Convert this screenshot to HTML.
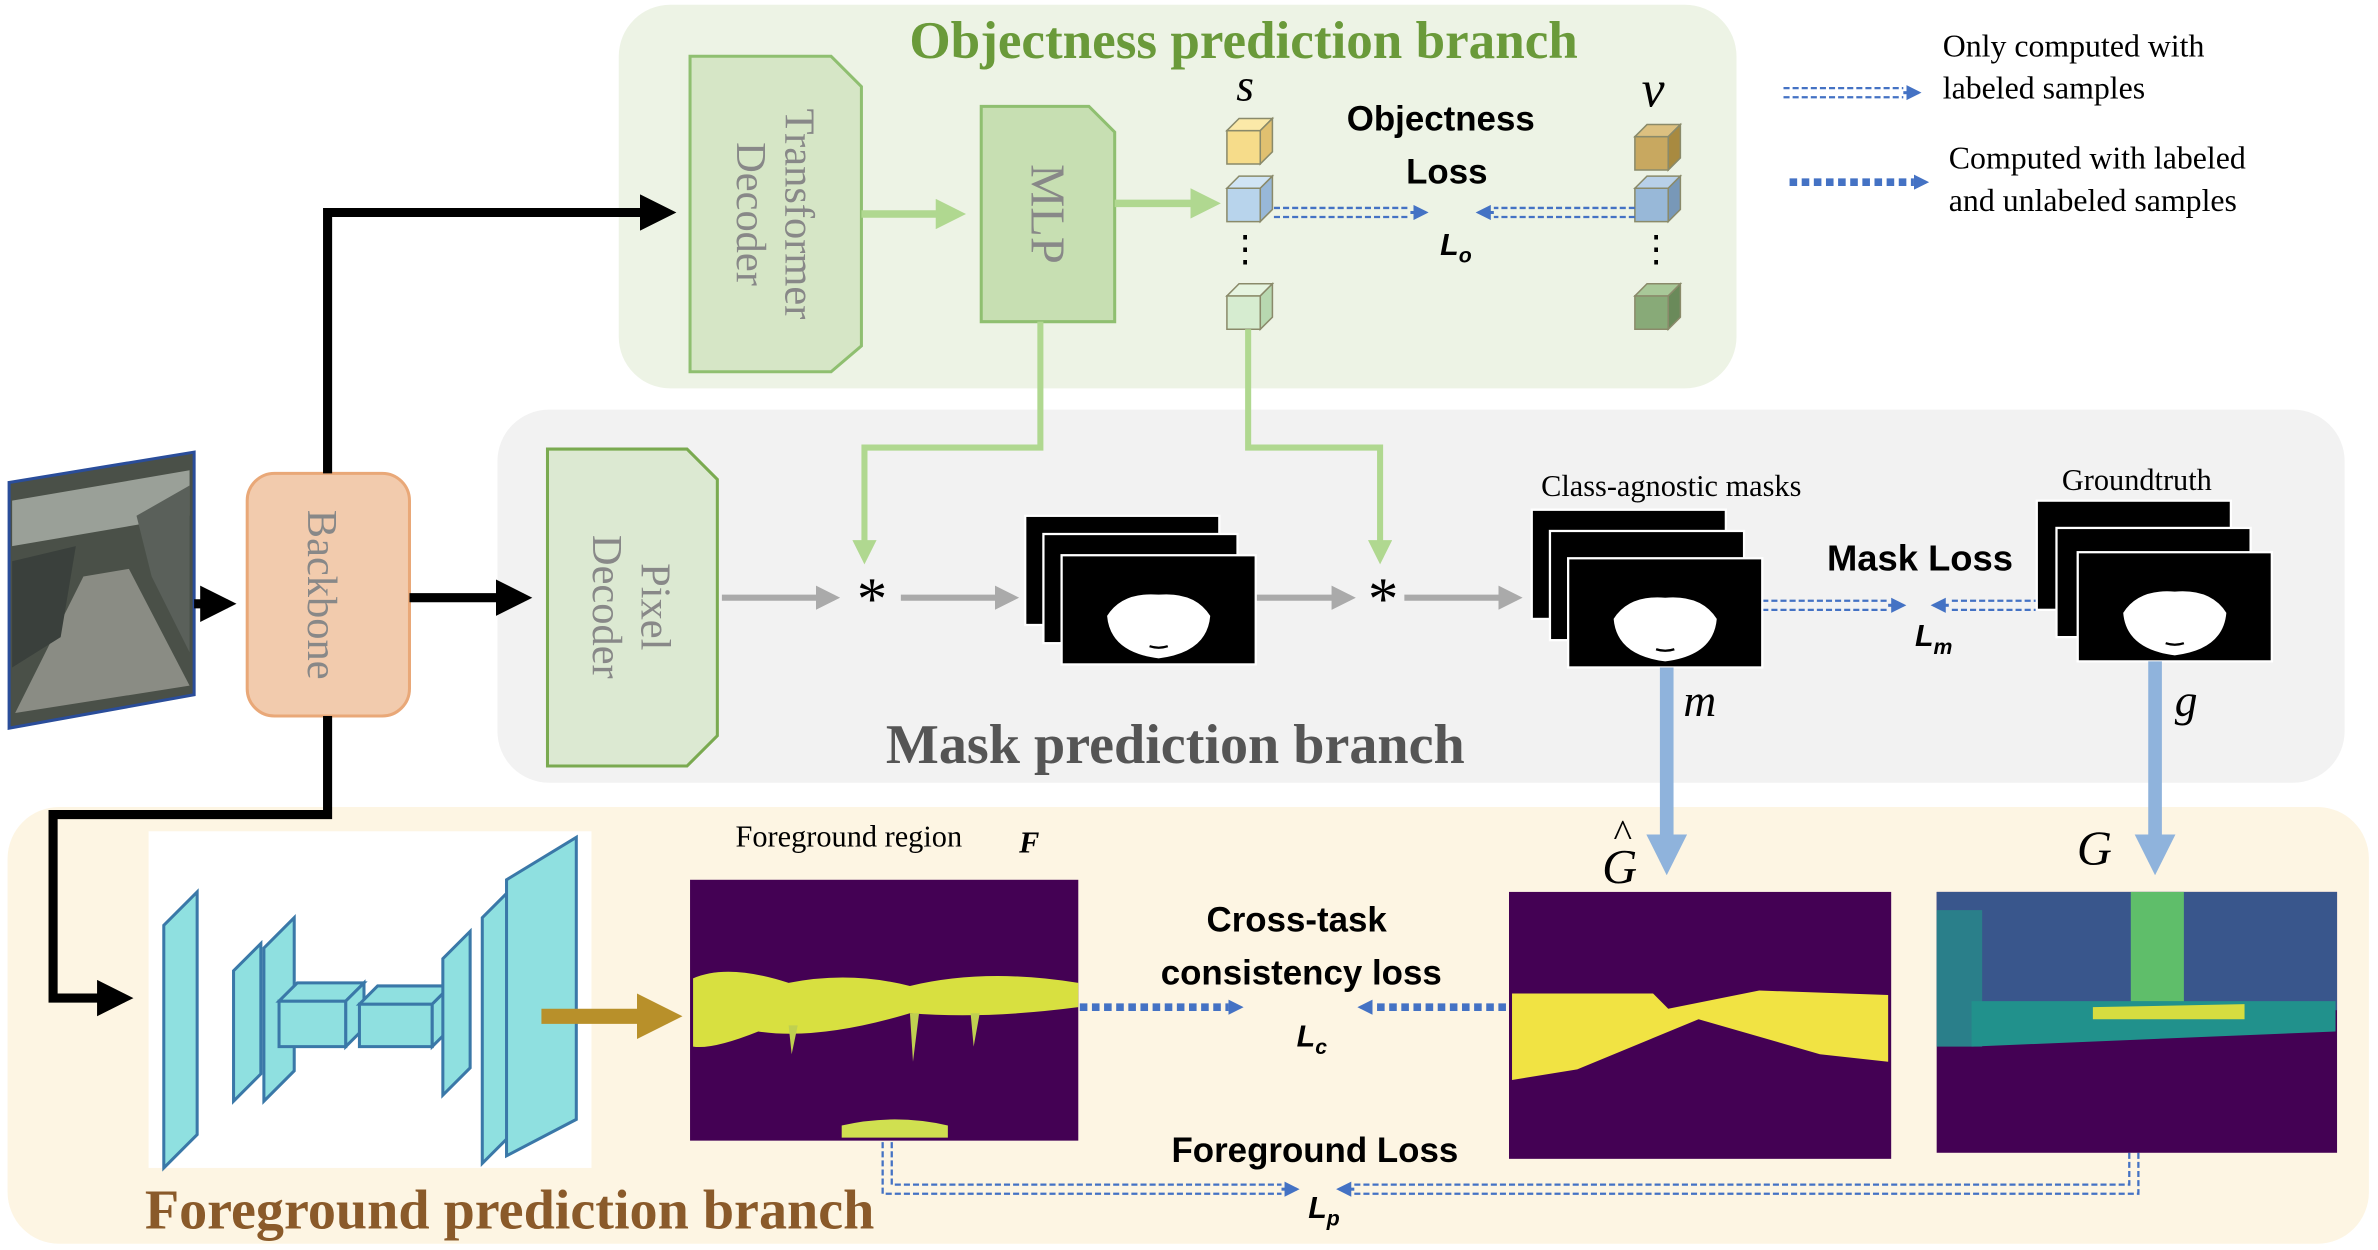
<!DOCTYPE html>
<html><head><meta charset="utf-8"><style>html,body{margin:0;padding:0;background:#fff}svg{display:block}</style></head><body>
<svg width="2378" height="1250" viewBox="0 0 1568 824" xmlns="http://www.w3.org/2000/svg" font-family="Liberation Serif, serif">
<defs>
<marker id="ab" markerWidth="4" markerHeight="4" refX="3" refY="2" orient="auto"><path d="M0,0L4,2L0,4z" fill="#000"/></marker>
<marker id="ag" markerWidth="4" markerHeight="4" refX="3" refY="2" orient="auto"><path d="M0,0L4,2L0,4z" fill="#b0d890"/></marker>
<marker id="agr" markerWidth="4" markerHeight="4" refX="3" refY="2" orient="auto"><path d="M0,0L4,2L0,4z" fill="#aaa"/></marker>
<marker id="abl" markerWidth="5" markerHeight="5" refX="4" refY="2.5" orient="auto"><path d="M0,0L5,2.5L0,5z" fill="#4472c4"/></marker>
<marker id="alb" markerWidth="3" markerHeight="3" refX="2" refY="1.5" orient="auto"><path d="M0,0L3,1.5L0,3z" fill="#8fb3dc"/></marker>
<marker id="ao" markerWidth="3" markerHeight="3" refX="2" refY="1.5" orient="auto"><path d="M0,0L3,1.5L0,3z" fill="#b8902a"/></marker>
<g id="mask"><rect width="128" height="72" fill="#000" stroke="#fff" stroke-width="1.5"/><path d="M30,40 Q40,24 64,26 Q88,24 98,40 Q96,64 64,68 Q32,64 30,40z" fill="#fff"/><path d="M58,60 Q64,62 70,60" stroke="#000" stroke-width="1.5" fill="none"/></g>
</defs>
<rect x="408" y="3" width="737" height="253" rx="34" fill="#edf3e5"/>
<rect x="328" y="270" width="1218" height="246" rx="34" fill="#f2f2f2"/>
<rect x="5" y="532" width="1557" height="288" rx="34" fill="#fdf5e3"/>
<text x="820" y="38" font-size="35" font-weight="bold" fill="#6a9a3a" text-anchor="middle">Objectness prediction branch</text>
<text x="775" y="503" font-size="37" font-weight="bold" fill="#555" text-anchor="middle">Mask prediction branch</text>
<text x="336" y="810" font-size="37" font-weight="bold" fill="#8a5a2a" text-anchor="middle">Foreground prediction branch</text>
<!-- input image -->
<polygon points="6,318 128,298 128,458 6,480" fill="#4a5048" stroke="#2a4d9a" stroke-width="2"/>
<polygon points="8,330 125,310 125,340 8,360" fill="#9aa098"/>
<polygon points="10,470 55,380 85,375 125,452" fill="#8a8c84"/>
<polygon points="90,340 125,320 125,430 100,380" fill="#5a605a"/>
<polygon points="8,370 50,360 40,420 8,440" fill="#3a403c"/>
<!-- backbone -->
<rect x="163" y="312" width="107" height="160" rx="18" fill="#f2cbad" stroke="#e9a878" stroke-width="2"/>
<text transform="translate(203,392) rotate(90)" font-size="28" fill="#888" text-anchor="middle">Backbone</text>
<path d="M128,398H150" stroke="#000" stroke-width="6" marker-end="url(#ab)"/>
<path d="M270,394H345" stroke="#000" stroke-width="6" marker-end="url(#ab)"/>
<path d="M216,312V140H440" stroke="#000" stroke-width="6" fill="none" marker-end="url(#ab)"/>
<path d="M216,472V537H35V658H82" stroke="#000" stroke-width="6" fill="none" marker-end="url(#ab)"/>
<path d="M455,37H548L568,57V228L548,245H455z" fill="#d6e6c6" stroke="#8fbf70" stroke-width="2"/>
<text transform="translate(510,141) rotate(90)" font-size="28" fill="#888" text-anchor="middle"><tspan x="0" dy="-8">Transformer</tspan><tspan x="0" dy="32">Decoder</tspan></text>
<path d="M647,70H718L735,87V212H718L705,212H647z" fill="#c7dfb2" stroke="#8fbf70" stroke-width="2"/>
<text transform="translate(680,141) rotate(90)" font-size="32" fill="#888" text-anchor="middle">MLP</text>
<path d="M568,141H632" stroke="#b0d890" stroke-width="5" marker-end="url(#ag)"/>
<path d="M735,134H800" stroke="#b0d890" stroke-width="5" marker-end="url(#ag)"/>
<g stroke="#8a8a6a" stroke-width="1">
<path d="M809,86h22v22h-22z" fill="#f6dc8a"/><path d="M809,86l8,-8h22l-8,8z" fill="#fbe9a8"/><path d="M831,86l8,-8v22l-8,8z" fill="#e0c070"/>
<path d="M809,124h22v22h-22z" fill="#b8d4ec"/><path d="M809,124l8,-8h22l-8,8z" fill="#d0e4f4"/><path d="M831,124l8,-8v22l-8,8z" fill="#98b8d8"/>
<path d="M809,195h22v22h-22z" fill="#d6ecd0"/><path d="M809,195l8,-8h22l-8,8z" fill="#e6f4e0"/><path d="M831,195l8,-8v22l-8,8z" fill="#b8d8b0"/>
<path d="M1078,90h22v22h-22z" fill="#c8a860"/><path d="M1078,90l8,-8h22l-8,8z" fill="#dcc080"/><path d="M1100,90l8,-8v22l-8,8z" fill="#a88a40"/>
<path d="M1078,124h22v22h-22z" fill="#98b8d8"/><path d="M1078,124l8,-8h22l-8,8z" fill="#b8d0e8"/><path d="M1100,124l8,-8v22l-8,8z" fill="#7898b8"/>
<path d="M1078,195h22v22h-22z" fill="#88aa78"/><path d="M1078,195l8,-8h22l-8,8z" fill="#a8c898"/><path d="M1100,195l8,-8v22l-8,8z" fill="#6a8a5a"/>
</g>
<text x="821" y="172" font-size="24" text-anchor="middle">⋮</text>
<text x="1092" y="172" font-size="24" text-anchor="middle">⋮</text>
<text x="821" y="66" font-size="30" font-style="italic" text-anchor="middle">s</text>
<text x="1090" y="70" font-size="34" font-style="italic" text-anchor="middle">v</text>
<g font-family="Liberation Sans, sans-serif" font-weight="bold" text-anchor="middle">
<text x="950" y="86" font-size="23">Objectness</text><text x="954" y="121" font-size="23">Loss</text>
<text x="960" y="168" font-size="20" font-style="italic">L<tspan font-size="14" dy="5">o</tspan></text>
<text x="1266" y="376" font-size="24">Mask Loss</text>
<text x="1275" y="426" font-size="20" font-style="italic">L<tspan font-size="14" dy="5">m</tspan></text>
<text x="855" y="614" font-size="23">Cross-task</text><text x="858" y="649" font-size="23">consistency loss</text>
<text x="865" y="690" font-size="20" font-style="italic">L<tspan font-size="14" dy="5">c</tspan></text>
<text x="867" y="766" font-size="23">Foreground Loss</text>
<text x="873" y="803" font-size="20" font-style="italic">L<tspan font-size="14" dy="5">p</tspan></text>
</g>
<g fill="none" stroke="#4472c4" stroke-width="1.5" stroke-dasharray="4,2">
<path d="M840,137H930M840,143H930"/><path d="M1078,137H985M1078,143H985"/>
<path d="M1162,396H1245M1162,402H1245"/><path d="M1345,396H1285M1345,402H1285"/>
<path d="M582,753V787H845M588,753V781H845"/><path d="M1410,760V787H893M1404,760V781H893"/>
<path d="M1176,58H1255M1176,64H1255"/>
</g>
<path d="M930,140H940" stroke="#4472c4" stroke-width="2" marker-end="url(#abl)"/>
<path d="M985,140H975" stroke="#4472c4" stroke-width="2" marker-end="url(#abl)"/>
<path d="M1245,399H1255" stroke="#4472c4" stroke-width="2" marker-end="url(#abl)"/>
<path d="M1285,399H1275" stroke="#4472c4" stroke-width="2" marker-end="url(#abl)"/>
<path d="M845,784H855" stroke="#4472c4" stroke-width="2" marker-end="url(#abl)"/>
<path d="M893,784H883" stroke="#4472c4" stroke-width="2" marker-end="url(#abl)"/>
<path d="M1255,61H1265" stroke="#4472c4" stroke-width="2" marker-end="url(#abl)"/>
<g fill="none" stroke="#4472c4" stroke-width="5" stroke-dasharray="5,3">
<path d="M1180,120H1262"/><path d="M712,664H810"/><path d="M993,664H905"/>
</g>
<path d="M1262,120H1270" stroke="#4472c4" stroke-width="2" marker-end="url(#abl)"/>
<path d="M810,664H818" stroke="#4472c4" stroke-width="2" marker-end="url(#abl)"/>
<path d="M905,664H897" stroke="#4472c4" stroke-width="2" marker-end="url(#abl)"/>
<g font-size="21"><text x="1281" y="37">Only computed with</text><text x="1281" y="65">labeled samples</text>
<text x="1285" y="111">Computed with labeled</text><text x="1285" y="139">and unlabeled samples</text></g>
<path d="M361,296H453L473,316V485L453,505H361z" fill="#dce9d2" stroke="#7aaa50" stroke-width="2"/>
<text transform="translate(417,400) rotate(90)" font-size="28" fill="#888" text-anchor="middle"><tspan x="0" dy="-6">Pixel</tspan><tspan x="0" dy="32">Decoder</tspan></text>
<path d="M686,212V295H570V368" stroke="#b0d890" stroke-width="4" fill="none" marker-end="url(#ag)"/>
<path d="M823,217V295H910V368" stroke="#b0d890" stroke-width="4" fill="none" marker-end="url(#ag)"/>
<path d="M476,394H550" stroke="#aaa" stroke-width="4" marker-end="url(#agr)"/>
<path d="M594,394H668" stroke="#aaa" stroke-width="4" marker-end="url(#agr)"/>
<path d="M828,394H890" stroke="#aaa" stroke-width="4" marker-end="url(#agr)"/>
<path d="M926,394H1000" stroke="#aaa" stroke-width="4" marker-end="url(#agr)"/>
<text x="575" y="408" font-size="40" text-anchor="middle">*</text>
<text x="912" y="408" font-size="40" text-anchor="middle">*</text>
<use href="#mask" x="676" y="340"/><use href="#mask" x="688" y="352"/><use href="#mask" x="700" y="366"/>
<use href="#mask" x="1010" y="336"/><use href="#mask" x="1022" y="350"/><use href="#mask" x="1034" y="368"/>
<use href="#mask" x="1343" y="330"/><use href="#mask" x="1356" y="348"/><use href="#mask" x="1370" y="364"/>
<text x="1102" y="327" font-size="20" text-anchor="middle">Class-agnostic masks</text>
<text x="1409" y="323" font-size="20" text-anchor="middle">Groundtruth</text>
<text x="1110" y="472" font-size="30" font-style="italic">m</text>
<text x="1434" y="472" font-size="30" font-style="italic">g</text>
<path d="M1099,440V568" stroke="#8fb3dc" stroke-width="9" marker-end="url(#alb)"/>
<path d="M1421,436V568" stroke="#8fb3dc" stroke-width="9" marker-end="url(#alb)"/>
<text x="1068" y="582" font-size="32" font-style="italic" text-anchor="middle">G</text>
<text x="1070" y="558" font-size="26" text-anchor="middle">^</text>
<text x="1381" y="570" font-size="32" font-style="italic" text-anchor="middle">G</text>
<rect x="98" y="548" width="292" height="222" fill="#fff"/>
<g fill="#8fe0e0" stroke="#3a78a8" stroke-width="2">
<polygon points="108,610 130,588 130,748 108,770"/><polygon points="154,640 172,622 172,708 154,726"/>
<polygon points="174,625 194,605 194,706 174,726"/>
<polygon points="184,660 228,660 228,690 184,690"/><polygon points="184,660 196,648 240,648 228,660"/><polygon points="228,660 240,648 240,678 228,690"/>
<polygon points="237,662 285,662 285,690 237,690"/><polygon points="237,662 249,650 297,650 285,662"/><polygon points="285,662 297,650 297,678 285,690"/>
<polygon points="292,632 310,614 310,704 292,722"/><polygon points="318,605 340,583 340,745 318,767"/>
<polygon points="334,580 380,552 380,738 334,762"/>
</g>
<path d="M357,670H440" stroke="#b8902a" stroke-width="10" marker-end="url(#ao)"/>
<rect x="455" y="580" width="256" height="172" fill="#440154"/>
<path d="M457,645 Q480,635 520,648 Q560,640 600,650 Q650,638 711,648 L711,664 Q650,672 600,668 Q540,686 500,680 Q470,692 457,690z" fill="#d8e040"/>
<path d="M600,668 L602,700 L606,668z M640,668 L642,690 L646,668z M520,676 L522,695 L526,676z" fill="#c0d050"/>
<path d="M555,742 Q590,734 625,742 L625,750 L555,750z" fill="#d0e050"/>
<text x="485" y="558" font-size="20">Foreground region</text><text x="672" y="562" font-size="20" font-style="italic" font-weight="bold">F</text>
<rect x="995" y="588" width="252" height="176" fill="#440154"/>
<path d="M997,655 L1090,655 L1100,665 L1160,653 L1245,656 L1245,700 L1200,695 L1120,672 L1040,705 L997,712z" fill="#f1e343"/>
<rect x="1277" y="588" width="264" height="172" fill="#440154"/>
<rect x="1277" y="588" width="264" height="78" fill="#39568c"/>
<rect x="1405" y="588" width="35" height="78" fill="#5fbe6a"/>
<rect x="1277" y="600" width="30" height="90" fill="#2a7f8a"/>
<path d="M1300,660 L1540,660 L1540,680 L1300,690z" fill="#21918c"/>
<path d="M1380,664 L1480,662 L1480,672 L1380,672z" fill="#d6dc40"/>
</svg>
</body></html>
